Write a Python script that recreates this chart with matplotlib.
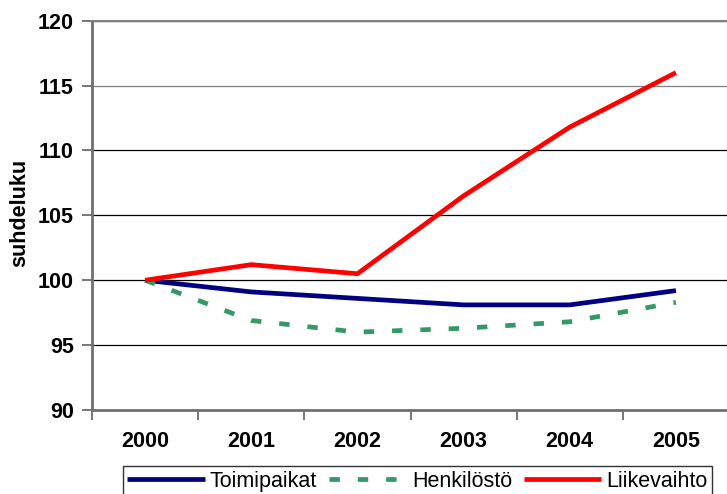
import numpy as np
import matplotlib
matplotlib.use("Agg")
import matplotlib.pyplot as plt

plt.rcParams['font.family'] = ['Liberation Sans', 'DejaVu Sans']

years = ['2000', '2001', '2002', '2003', '2004', '2005']
toimipaikat = [100.0, 99.1, 98.6, 98.1, 98.1, 99.2]
henkilosto = [100.0, 96.9, 96.0, 96.3, 96.8, 98.3]
liikevaihto = [100.0, 101.2, 100.5, 106.5, 111.8, 116.0]

W, H = 727, 494
fig = plt.figure(figsize=(W / 100, H / 100), dpi=100)
# plot area in pixels: left 92, right 729, top 20.7, bottom 410
ax = fig.add_axes([92 / W, 1 - 410 / H, (729 - 92) / W, (410 - 20.7) / H])

x = np.arange(len(years))
ax.plot(x, toimipaikat, color='#000080', lw=3.4, label='Toimipaikat',
        solid_capstyle='butt', solid_joinstyle='miter', zorder=3)
ax.plot(x, henkilosto, color='#339966', lw=3.4, label='Henkilöstö',
        dashes=(2.2, 3.8), dash_capstyle='butt', zorder=3)
ax.plot(x, liikevaihto, color='#ff0000', lw=3.4, label='Liikevaihto',
        solid_capstyle='butt', solid_joinstyle='miter', zorder=3)

ax.set_xlim(-0.5, len(years) - 0.5)
ax.set_ylim(90, 120)
ax.set_yticks(np.arange(90, 121, 5))

# labels at category centres, tick marks between categories
ax.set_xticks(x)
ax.set_xticklabels(years)
ax.set_xticks(np.arange(-0.5, len(years), 1), minor=True)
ax.tick_params(axis='x', which='major', length=0, pad=15)
ax.tick_params(axis='x', which='minor', length=7, width=1.2, color='#606060')
ax.tick_params(axis='y', length=7, width=1.2, color='#606060', pad=6)
for lab in ax.get_xticklabels() + ax.get_yticklabels():
    lab.set_fontsize(15.5)
    lab.set_fontweight('bold')

ax.grid(axis='y', color='black', lw=0.9)
ax.get_ygridlines()[5].set_color('#808080')
ax.set_axisbelow(True)

for side in ['left', 'bottom']:
    ax.spines[side].set_color('#707070')
    ax.spines[side].set_linewidth(2)
ax.spines['top'].set_color('#808080')
ax.spines['top'].set_linewidth(1.5)
ax.spines['right'].set_visible(False)

fig.text(20 / W, 1 - 213 / H, 'suhdeluku', rotation=90, ha='center', va='center',
         fontsize=15.5, fontweight='bold')

leg = fig.legend(loc='center', bbox_to_anchor=(417.5 / W, 1 - 481 / H), ncol=3,
                 fontsize=15.5, frameon=True, fancybox=False, handlelength=3.6,
                 handletextpad=0.25, columnspacing=0.55, borderpad=0.2,
                 borderaxespad=0)
leg.get_frame().set_edgecolor('black')
leg.get_frame().set_linewidth(1.0)

fig.savefig('out.png', dpi=100)
